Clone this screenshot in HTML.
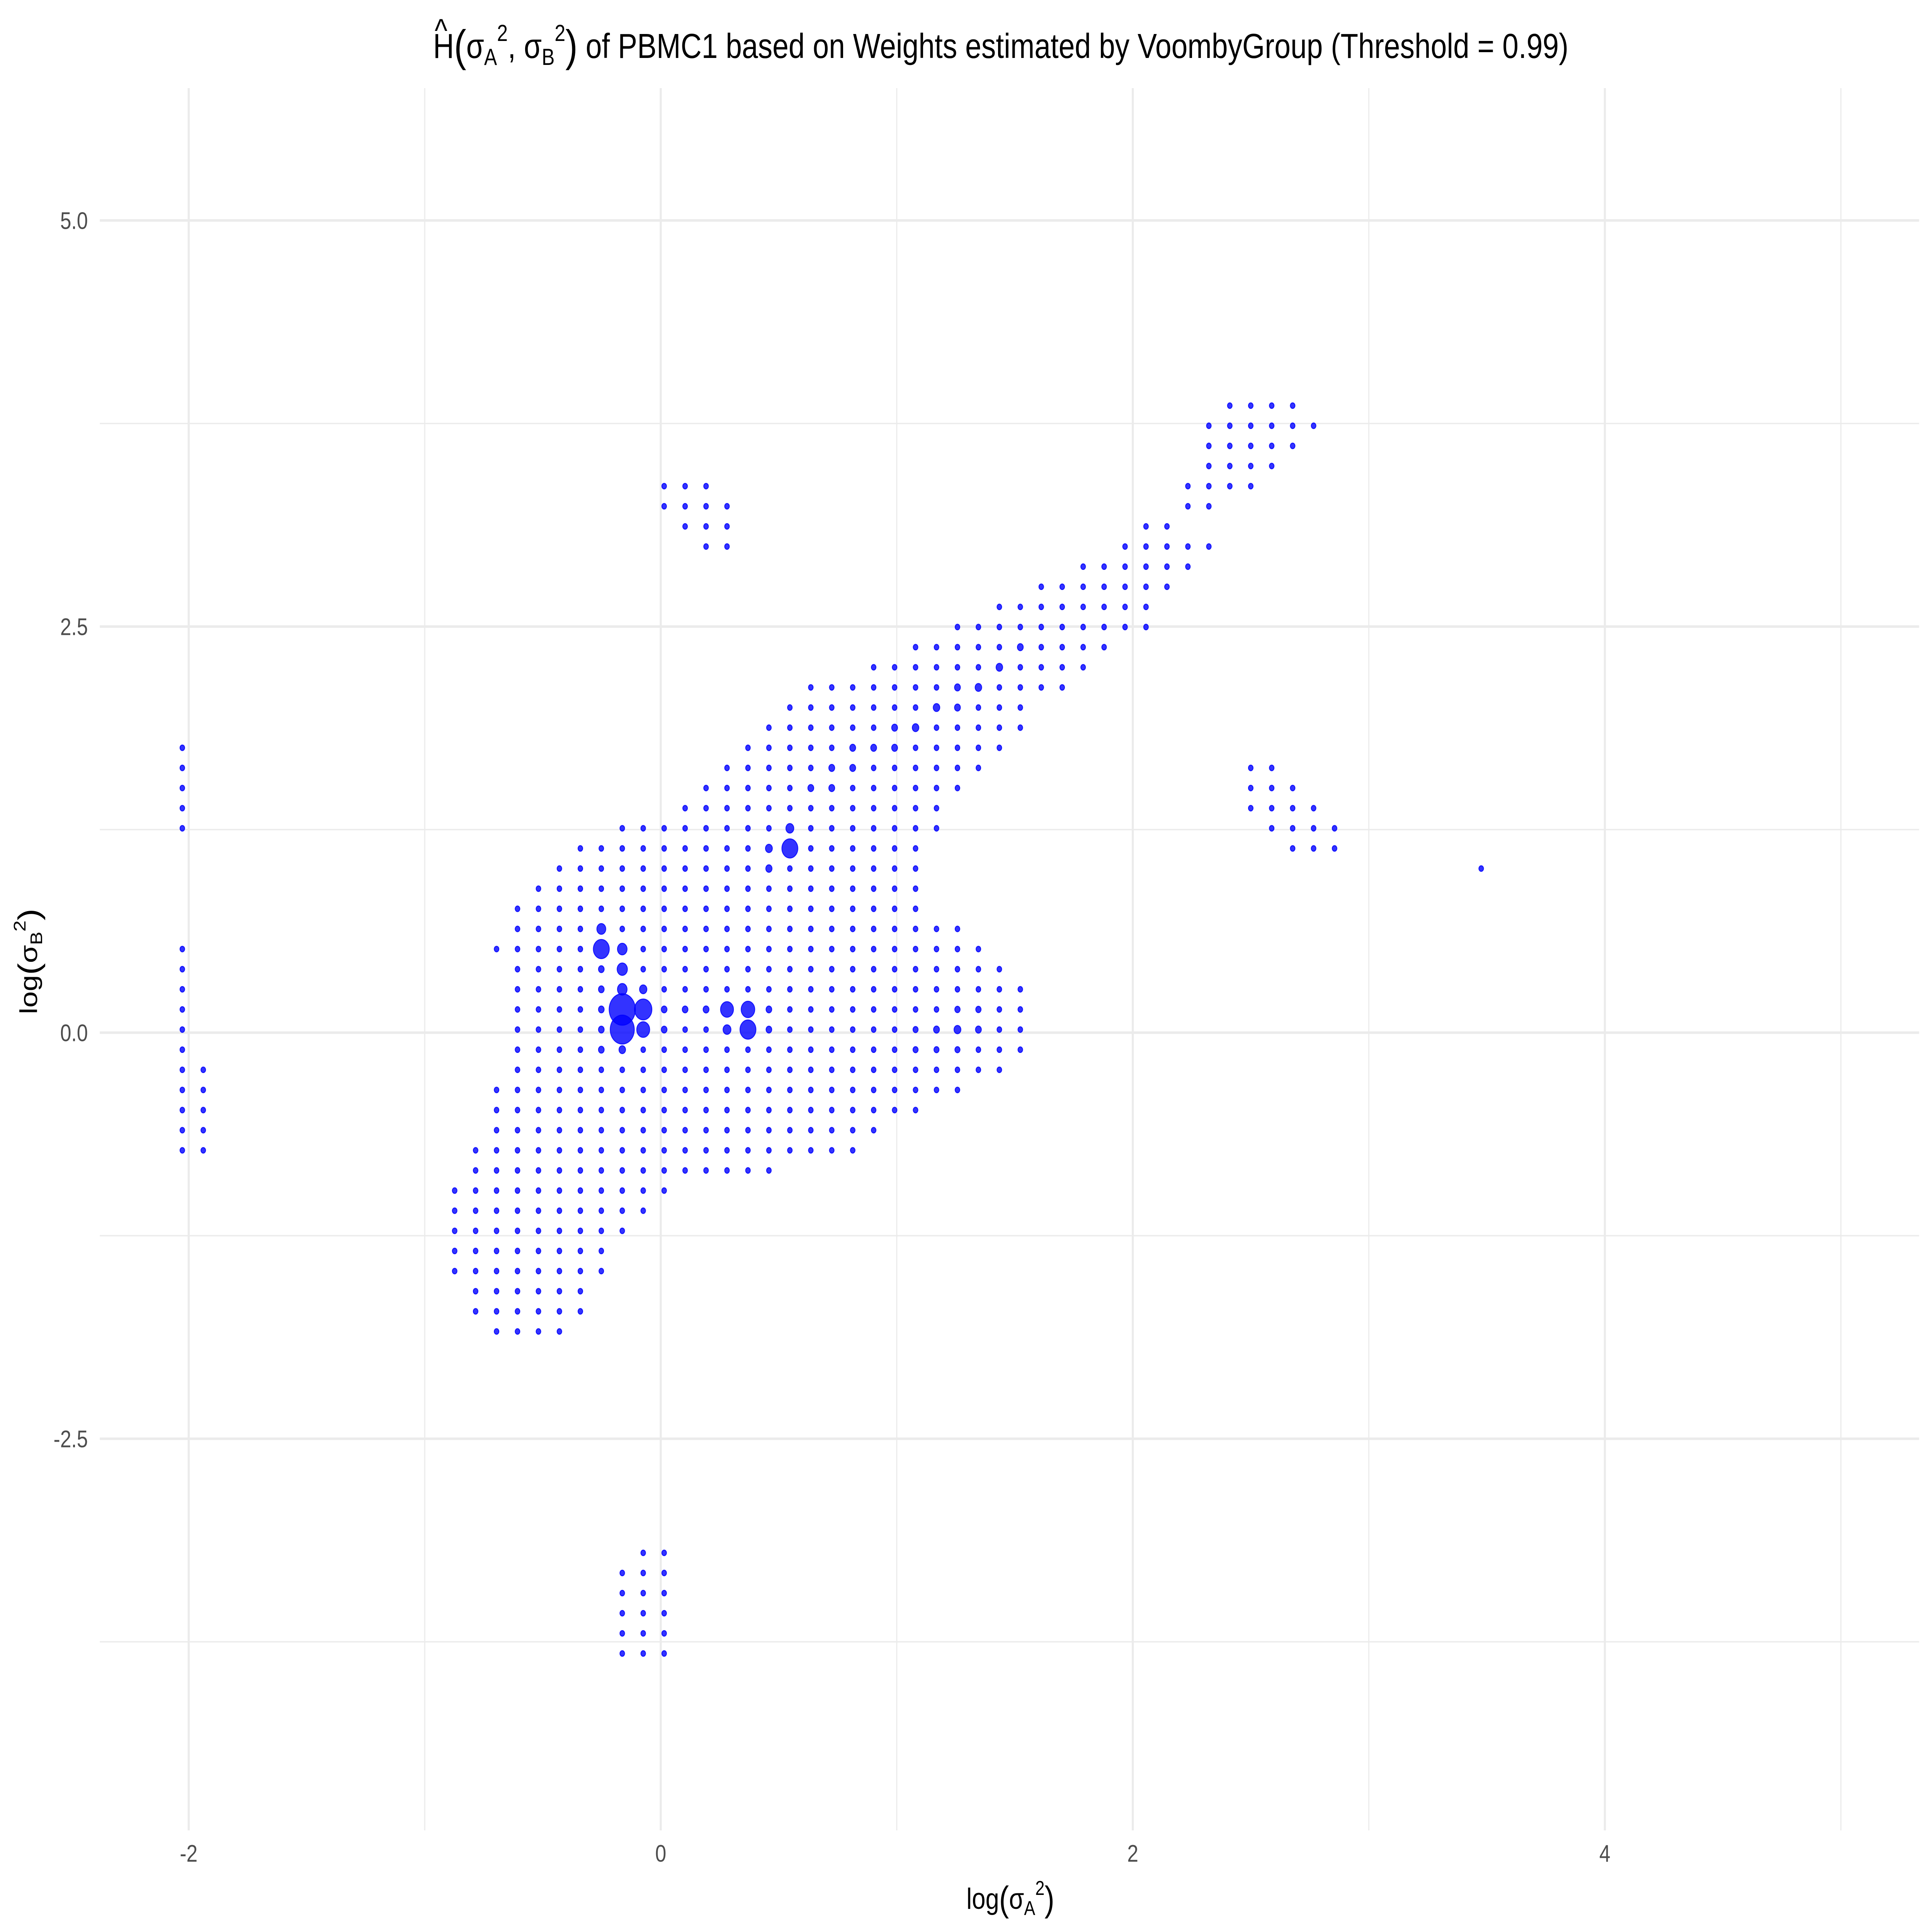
<!DOCTYPE html>
<html><head><meta charset="utf-8"><style>
html,body{margin:0;padding:0;background:#fff;overflow:hidden;width:100%;height:100%;}
svg{display:block;width:100vw;height:100vh;}
text{font-family:"Liberation Sans",sans-serif;}
</style></head><body>
<svg id="chart" viewBox="0 0 6000 5000" preserveAspectRatio="none" xmlns="http://www.w3.org/2000/svg">
<rect x="0" y="0" width="6000" height="5000" fill="#fff"/>
<g id="grid"></g>
<g id="points"></g>
<g id="ticks"></g>
<text x="1345" y="150" font-size="90" text-anchor="start" fill="#000"><tspan>H</tspan><tspan font-size="114" dy="8">(</tspan><tspan dy="-8">σ</tspan><tspan font-size="60" dy="18">A</tspan><tspan font-size="60" dy="-62">2</tspan><tspan dy="44">, σ</tspan><tspan font-size="60" dy="18">B</tspan><tspan font-size="60" dy="-62">2</tspan><tspan font-size="114" dy="52">)</tspan><tspan dy="-8"> of PBMC1 based on Weights estimated by VoombyGroup (Threshold = 0.99)</tspan></text>
<text x="1350" y="108" font-size="84" fill="#000">^</text>
<text x="3138" y="4940" font-size="76" text-anchor="middle" fill="#000">log<tspan font-size="92" dy="6">(</tspan><tspan dy="-6">σ</tspan><tspan font-size="52" dy="16">A</tspan><tspan font-size="52" dy="-52">2</tspan><tspan font-size="92" dy="42">)</tspan></text>
<text transform="translate(115,2488) rotate(-90)" font-size="76" text-anchor="middle" fill="#000">log<tspan font-size="92" dy="6">(</tspan><tspan dy="-6">σ</tspan><tspan font-size="52" dy="16">B</tspan><tspan font-size="52" dy="-52">2</tspan><tspan font-size="92" dy="42">)</tspan></text>
</svg>
<script>
// ---- data ----
const latticeX0 = -2.027;   // x value of column 0
const latticeDX = 0.08876;  // x step per column
const latticeY0 = 0.019;    // y value of row 0
const latticeDY = 0.1239;   // y step per row
// rows: [rowIndex, colStart, colEnd]
const rowSpans = [
 [31,50,53],[30,49,54],[29,49,53],[28,49,52],
 [27,48,51],[27,23,25],[26,48,49],[26,23,26],[25,46,47],[25,24,26],[24,45,49],[24,25,26],
 [23,43,48],[22,41,47],[21,39,46],[20,37,46],[19,35,44],[18,33,43],[17,30,42],[16,29,40],[15,28,40],
 [14,27,39],[14,0,0],[13,26,38],[13,0,0],[13,51,52],[12,25,37],[12,0,0],[12,51,53],
 [11,24,36],[11,0,0],[11,51,54],[10,21,36],[10,0,0],[10,52,55],[9,19,35],[9,53,55],[8,18,35],[8,62,62],
 [7,17,35],[6,16,35],[5,16,37],[4,15,38],[4,0,0],[3,16,39],[3,0,0],[2,16,40],[2,0,0],
 [1,16,40],[1,0,0],[0,16,40],[0,0,0],[-1,16,40],[-1,0,0],[-2,16,39],[-2,0,1],[-3,15,37],[-3,0,1],
 [-4,15,35],[-4,0,1],[-5,15,33],[-5,0,1],[-6,14,32],[-6,0,1],[-7,14,28],[-8,13,23],[-9,13,22],
 [-10,13,21],[-11,13,20],[-12,13,20],[-13,14,19],[-14,14,19],[-15,15,18],
 [-26,22,23],[-27,21,23],[-28,21,23],[-29,21,23],[-30,21,23],[-31,21,23]
];
// heavier points: [col, row, weight]
const heavyCols = [21,21,22,22,20,20,21,21,21,22,20,20,20,20,20,21,26,26,27,27,29,29,28,28,25,24,23,23,28,28,35,36,37,38,37,38,35,36,37,32,33,39,38,37,36,37,35,34,34,33,32,31,32,30,31,40];
const heavyRows = [1,0,1,0,4,5,4,3,2,2,2,3,1,0,-1,-1,1,0,1,0,9,10,9,8,1,1,1,0,0,1,0,0,0,0,1,1,-1,-1,-1,14,14,18,17,17,16,16,15,15,14,14,14,13,13,12,12,19];
const heavyWeights = [32,27,14,7.8,11.8,3.7,4.3,4.9,4.3,2.5,1.5,1.5,1.5,1.5,1.5,2,7.8,2.9,8.6,11.8,11.8,2.9,2.2,1.8,1.6,1.5,1.5,1.5,1.5,1.5,1.2,1.6,2.2,1.6,1.3,1.3,1.2,1.2,1.2,1.6,1.6,2,2,1.6,2,1.6,2,1.6,1.6,1.6,1.6,1.6,1.6,1.6,1.6,1.6];
const xTickValues = [-2,0,2,4];
const xTickLabels = ["-2","0","2","4"];
const yTickValues = [5,2.5,0,-2.5];
const yTickLabels = ["5.0","2.5","0.0","-2.5"];
const xMinorValues = [-1,1,3,5];
const yMinorValues = [3.75,1.25,-1.25,-3.75];

// ---- scales ----
const panel = {left:310, right:5960, top:228, bottom:4737};
function sx(v){ return 2052 + v*733; }
function sy(v){ return 2672.5 - v*420.4; }
function sr(w){ return 7.2*Math.sqrt(w); }
const NS = "http://www.w3.org/2000/svg";
const grid = document.getElementById('grid');
const pts = document.getElementById('points');
const ticks = document.getElementById('ticks');

function line(x1,y1,x2,y2,w,name){
  const l = document.createElementNS(NS,'line');
  l.setAttribute('x1',x1); l.setAttribute('y1',y1); l.setAttribute('x2',x2); l.setAttribute('y2',y2);
  l.setAttribute('stroke','#ebebeb'); l.setAttribute('stroke-width',w);
  
  
  grid.appendChild(l);
}
xMinorValues.forEach(v=>line(sx(v),panel.top,sx(v),panel.bottom,3.5,'x-minor-gridline'));
yMinorValues.forEach(v=>line(panel.left,sy(v),panel.right,sy(v),3.5,'y-minor-gridline'));
xTickValues.forEach(v=>line(sx(v),panel.top,sx(v),panel.bottom,6.5,'x-major-gridline'));
yTickValues.forEach(v=>line(panel.left,sy(v),panel.right,sy(v),6.5,'y-major-gridline'));

xTickValues.forEach((v,i)=>{
  const t = document.createElementNS(NS,'text');
  t.setAttribute('x',sx(v)); t.setAttribute('y',4818);
  t.setAttribute('font-size','62'); t.setAttribute('fill','#4d4d4d'); t.setAttribute('text-anchor','middle');
  t.textContent = xTickLabels[i];
  
  
  ticks.appendChild(t);
});
yTickValues.forEach((v,i)=>{
  const t = document.createElementNS(NS,'text');
  t.setAttribute('x',273); t.setAttribute('y',sy(v)+22);
  t.setAttribute('font-size','62'); t.setAttribute('fill','#4d4d4d'); t.setAttribute('text-anchor','end');
  t.textContent = yTickLabels[i];
  
  
  ticks.appendChild(t);
});

const weightMap = {};
heavyCols.forEach((c,i)=>{ weightMap[c+','+heavyRows[i]] = heavyWeights[i]; });

function dot(xv,yv,w){
  const c = document.createElementNS(NS,'circle');
  c.setAttribute('cx',sx(xv)); c.setAttribute('cy',sy(yv)); c.setAttribute('r',sr(w));
  c.setAttribute('fill','rgba(0,0,255,0.8)'); c.setAttribute('stroke','rgba(0,0,255,0.85)'); c.setAttribute('stroke-width','2.5');
  
  
  pts.appendChild(c);
}
const heavyDraw = [];
rowSpans.forEach(s=>{
  const r = s[0];
  for(let c=s[1]; c<=s[2]; c++){
    const key = c+','+r;
    const xv = latticeX0 + c*latticeDX, yv = latticeY0 + r*latticeDY;
    if(weightMap[key]!==undefined){ heavyDraw.push([xv,yv,weightMap[key]]); }
    else dot(xv,yv,1);
  }
});
heavyDraw.sort((a,b)=>a[2]-b[2]).forEach(p=>dot(p[0],p[1],p[2]));
</script>
</body></html>
